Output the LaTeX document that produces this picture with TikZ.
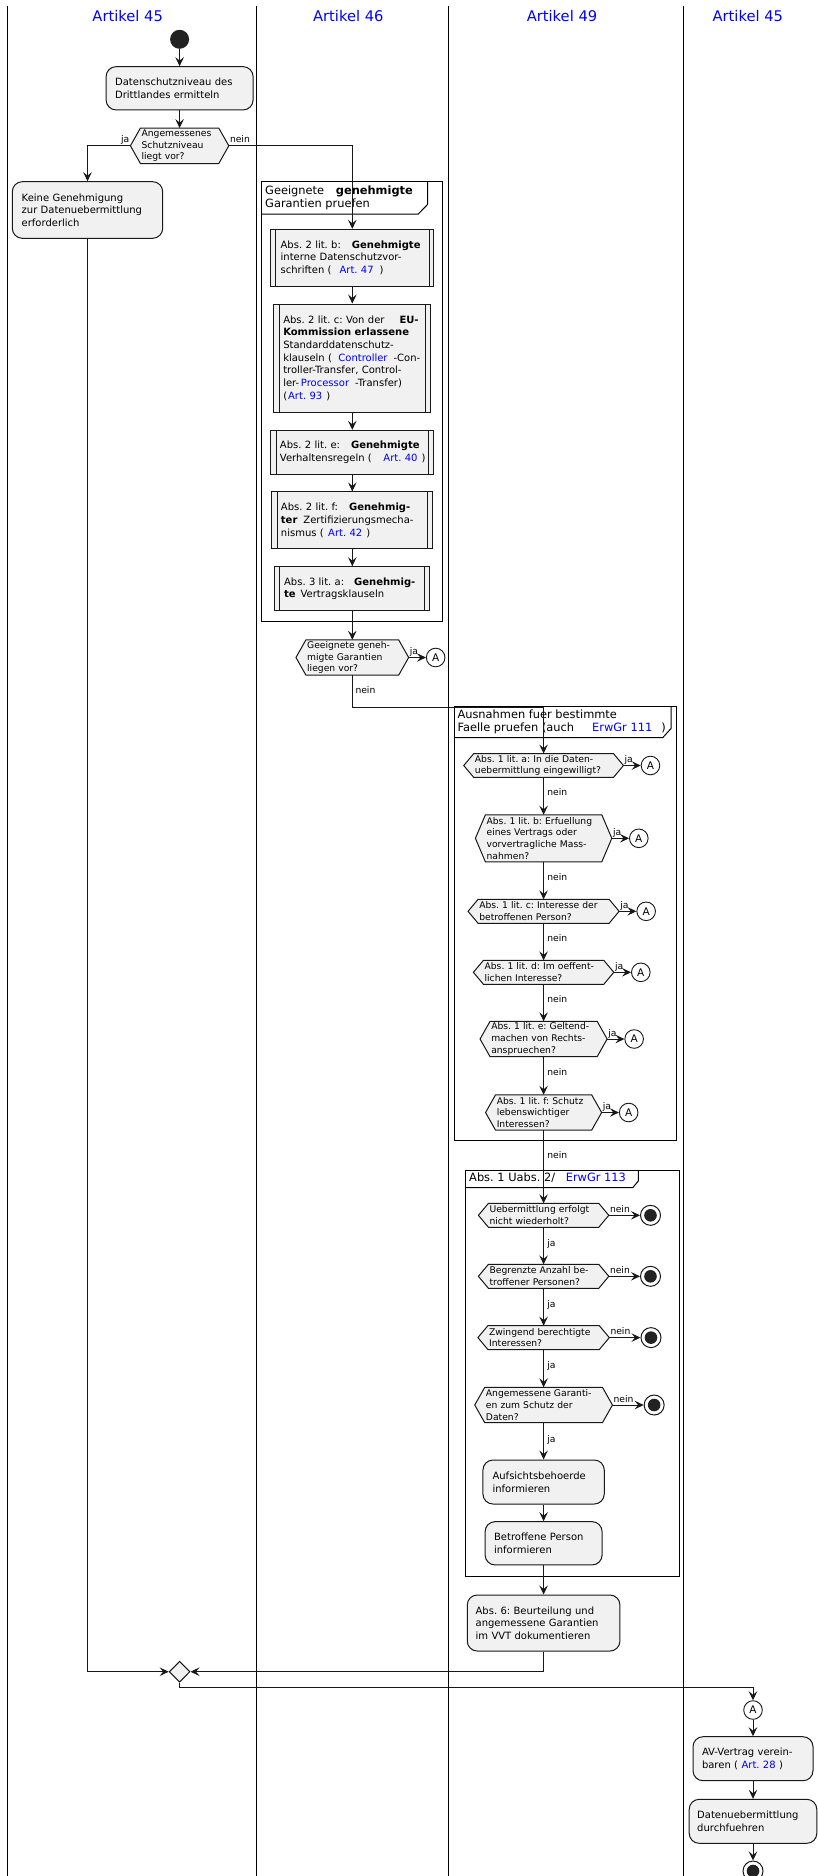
\documentclass[tikz,border=0pt]{standalone}
\usepackage{fontspec}
\setmainfont{DejaVu Sans}
\usetikzlibrary{arrows.meta,shapes.geometric,backgrounds}
\frenchspacing
\definecolor{boxfill}{HTML}{F1F1F1}
\definecolor{boxline}{HTML}{181818}
\definecolor{darkdot}{HTML}{222222}
\definecolor{linkblue}{HTML}{0000FF}
\newcommand\Lx[1]{\mbox{#1}}
\newcommand\lk[1]{\textcolor{linkblue}{#1}}
\newcommand\hexn[6]{%
  \node[hext, minimum width=#3pt, text width=#4pt, minimum height=#5pt] (#1) at #2 {#6};
  \begin{scope}[on background layer]
    \filldraw[hexs] ([xshift=-10pt]#1.west) -- (#1.north west) -- (#1.north east) -- ([xshift=10pt]#1.east) -- (#1.south east) -- (#1.south west) -- cycle;
  \end{scope}}
\tikzset{
 lane/.style={line width=1pt, draw=black},
 ttl/.style={font=\fontsize{14.7}{17}\selectfont, text=linkblue, inner sep=0pt, anchor=base},
 abox/.style={draw=boxline, fill=boxfill, line width=1pt, rounded corners=10pt, align=left, inner ysep=0pt, font=\fontsize{10}{12.7}\selectfont},
 sbox/.style={draw=boxline, fill=boxfill, line width=1pt, align=left, inner ysep=0pt, font=\fontsize{10}{12.7}\selectfont,
   path picture={\draw[boxline, line width=0.8pt] ([xshift=5pt]path picture bounding box.north west) -- ([xshift=5pt]path picture bounding box.south west)
     ([xshift=-5pt]path picture bounding box.north east) -- ([xshift=-5pt]path picture bounding box.south east);}},
 hext/.style={align=left, inner xsep=1pt, inner ysep=0pt, font=\fontsize{9.2}{11.6}\selectfont},
 hexs/.style={draw=boxline, fill=boxfill, line width=1pt},
 frm/.style={draw=black, line width=1pt},
 fhead/.style={align=left, inner sep=0pt, anchor=north west, font=\fontsize{11.4}{13.4}\selectfont},
 arr/.style={draw=boxline, line width=0.9pt, -{Stealth[length=9pt,width=8.5pt,inset=3.5pt]}},
 lbl/.style={font=\fontsize{9.2}{11}\selectfont, inner sep=1pt, text depth=1.8pt},
 circA/.style={circle, draw=boxline, fill=white, line width=0.9pt, minimum size=18.6pt, inner sep=0pt, font=\fontsize{10.5}{12}\selectfont},
 endc/.style={circle, draw=boxline, fill=white, line width=1pt, minimum size=20pt, inner sep=0pt,
   path picture={\fill[darkdot] (path picture bounding box.center) circle (6.3pt);}},
 startc/.style={circle, fill=darkdot, minimum size=19pt, inner sep=0pt},
 mrg/.style={diamond, draw=boxline, fill=boxfill, line width=1pt, minimum width=20.8pt, minimum height=21pt, inner sep=0pt},
}
\begin{document}
\begin{tikzpicture}[x=1pt,y=-1pt]
\useasboundingbox (0,0) rectangle (817,1876);
\begin{scope}[on background layer]
\fill[white] (0,0) rectangle (817,1876);
\end{scope}
% lanes
\draw[lane] (7,6) -- (7,1876);
\draw[lane] (256,6) -- (256,1876);
\draw[lane] (448,6) -- (448,1876);
\draw[lane] (683,6) -- (683,1876);
\node[ttl] (t1) at (127.7,22) {Artikel 45};
\node[ttl] (t2) at (348.3,22) {Artikel 46};
\node[ttl] (t3) at (562,22) {Artikel 49};
\node[ttl] (t4) at (747.8,22) {Artikel 45};
% lane 1
\node[startc] (start) at (179.6,39.3) {};
\node[abox, minimum width=147pt, text width=129pt, inner xsep=9pt, minimum height=43.3pt] (b1) at (179.6,88.3) {\Lx{Datenschutzniveau des}\\\Lx{Drittlandes ermitteln}};
\hexn{h1}{(179.6,145.8)}{78}{76}{35}{\Lx{Angemessenes}\\\Lx{Schutzniveau}\\\Lx{liegt vor?}}
\node[abox, minimum width=150.4pt, text width=131.6pt, inner xsep=9.4pt, minimum height=56.6pt] (kg) at (87.5,210) {\Lx{Keine Genehmigung}\\\Lx{zur Datenuebermittlung}\\\Lx{erforderlich}};
% frame 1
\draw[frm] (261.7,181.7) rectangle (442.7,621.7);
\draw[frm] (261.7,214) -- (418.3,214) -- (427.5,204.5) -- (427.5,181.7);
\node[fhead] (fh1) at (265,185.6) {\Lx{Geeignete\hspace{11.7pt}\textbf{genehmigte}}\\\Lx{Garantien pruefen}};
\node[sbox, minimum width=163.3pt, text width=143.3pt, inner xsep=10pt, minimum height=56.7pt] (sb) at (352.3,257.7) {\Lx{Abs. 2 lit. b:\hspace{11pt}\textbf{Genehmigte}}\\\Lx{interne Datenschutzvor-}\\\Lx{schriften (\hspace{8pt}\lk{Art. 47}\hspace{6pt})}};
\node[sbox, minimum width=156.7pt, text width=138.1pt, inner xsep=9.3pt, minimum height=108pt] (sc) at (352.3,358) {\Lx{Abs. 2 lit. c: Von der\hspace{15pt}\textbf{EU-}}\\\Lx{\textbf{Kommission erlassene}}\\\Lx{Standarddatenschutz-}\\\Lx{klauseln (\hspace{6.4pt}\lk{Controller}\hspace{6pt}-Con-}\\\Lx{troller-Transfer, Control-}\\\Lx{ler-\hspace{1.7pt}\lk{Processor}\hspace{6pt}-Transfer)}\\\Lx{(\hspace{1pt}\lk{Art. 93}\hspace{4pt})}};
\node[sbox, minimum width=162.7pt, text width=144.7pt, inner xsep=9pt, minimum height=43.7pt] (se) at (352.3,452.2) {\Lx{Abs. 2 lit. e:\hspace{11pt}\textbf{Genehmigte}}\\\Lx{Verhaltensregeln (\hspace{11.6pt}\lk{Art. 40}\hspace{4pt})}};
\node[sbox, minimum width=160.7pt, text width=142.7pt, inner xsep=9pt, minimum height=56.7pt] (sf) at (352.3,520.3) {\Lx{Abs. 2 lit. f:\hspace{11pt}\textbf{Genehmig-}}\\\Lx{\textbf{ter}\hspace{6pt}Zertifizierungsmecha-}\\\Lx{nismus (\hspace{4.4pt}\lk{Art. 42}\hspace{4pt})}};
\node[sbox, minimum width=155pt, text width=136.4pt, inner xsep=9.3pt, minimum height=44pt] (s3) at (352.3,588.7) {\Lx{Abs. 3 lit. a:\hspace{10pt}\textbf{Genehmig-}}\\\Lx{\textbf{te}\hspace{5pt}Vertragsklauseln}};
\hexn{hg}{(352.3,657.5)}{92.3}{90.3}{35}{\Lx{Geeignete geneh-}\\\Lx{migte Garantien}\\\Lx{liegen vor?}}
\node[circA] (ag) at ([xshift=37pt]hg.east) {A};
% frame 2
\draw[frm] (454,706) rectangle (676,1140.7);
\draw[frm] (454,737.7) -- (662.7,737.7) -- (671,728.5) -- (671,706);
\node[fhead] (fh2) at (457.3,709.6) {\Lx{Ausnahmen fuer bestimmte}\\\Lx{Faelle pruefen (auch\hspace{18pt}\lk{ErwGr 111}\hspace{9pt})}};
\hexn{ha}{(543.6,765.5)}{139.3}{137.3}{23.5}{\Lx{Abs. 1 lit. a: In die Daten-}\\\Lx{uebermittlung eingewilligt?}}
\hexn{hb}{(543.6,838.3)}{116}{114}{46.7}{\Lx{Abs. 1 lit. b: Erfuellung}\\\Lx{eines Vertrags oder}\\\Lx{vorvertragliche Mass-}\\\Lx{nahmen?}}
\hexn{hc}{(543.6,911.3)}{130.7}{128.7}{23.5}{\Lx{Abs. 1 lit. c: Interesse der}\\\Lx{betroffenen Person?}}
\hexn{hd}{(543.6,972.3)}{120}{118}{23.5}{\Lx{Abs. 1 lit. d: Im oeffent-}\\\Lx{lichen Interesse?}}
\hexn{he}{(543.6,1039)}{106.7}{104.7}{35}{\Lx{Abs. 1 lit. e: Geltend-}\\\Lx{machen von Rechts-}\\\Lx{anspruechen?}}
\hexn{hf}{(543.6,1112.5)}{95.7}{93.7}{35}{\Lx{Abs. 1 lit. f: Schutz}\\\Lx{lebenswichtiger}\\\Lx{Interessen?}}
\node[circA] (aa) at ([xshift=37pt]ha.east) {A};
\node[circA] (ab) at ([xshift=37pt]hb.east) {A};
\node[circA] (ac) at ([xshift=37pt]hc.east) {A};
\node[circA] (ad) at ([xshift=37pt]hd.east) {A};
\node[circA] (ae) at ([xshift=37pt]he.east) {A};
\node[circA] (af) at ([xshift=37pt]hf.east) {A};
% frame 3
\draw[frm] (465.7,1170.7) rectangle (679.5,1576);
\draw[frm] (465.7,1187.7) -- (632.7,1187.7) -- (638.3,1181) -- (638.3,1170.7);
\node[fhead] (fh3) at (469,1172.9) {\Lx{Abs. 1 Uabs. 2/\hspace{10.7pt}\lk{ErwGr 113}}};
\hexn{u1}{(543.6,1215.3)}{110}{108}{23.5}{\Lx{Uebermittlung erfolgt}\\\Lx{nicht wiederholt?}}
\hexn{u2}{(543.6,1276.3)}{110}{108}{23.5}{\Lx{Begrenzte Anzahl be-}\\\Lx{troffener Personen?}}
\hexn{u3}{(543.6,1337.6)}{111}{109}{23.5}{\Lx{Zwingend berechtigte}\\\Lx{Interessen?}}
\hexn{u4}{(543.6,1405)}{117.3}{115.3}{35}{\Lx{Angemessene Garanti-}\\\Lx{en zum Schutz der}\\\Lx{Daten?}}
\node[endc] (e1) at ([xshift=51.7pt]u1.east) {};
\node[endc] (e2) at ([xshift=51.7pt]u2.east) {};
\node[endc] (e3) at ([xshift=51.7pt]u3.east) {};
\node[endc] (e4) at ([xshift=51.7pt]u4.east) {};
\node[abox, minimum width=121.3pt, text width=102.1pt, inner xsep=9.6pt, minimum height=44pt] (au) at (543.6,1482) {\Lx{Aufsichtsbehoerde}\\\Lx{informieren}};
\node[abox, minimum width=117pt, text width=99pt, inner xsep=9pt, minimum height=43.3pt] (bp) at (543.6,1543.3) {\Lx{Betroffene Person}\\\Lx{informieren}};
\node[abox, minimum width=152.7pt, text width=135.9pt, inner xsep=8.4pt, minimum height=56pt] (a6) at (543.6,1623) {\Lx{Abs. 6: Beurteilung und}\\\Lx{angemessene Garantien}\\\Lx{im VVT dokumentieren}};
% merge and last lane
\node[mrg] (mg) at (179.6,1671.7) {};
\node[circA] (a2) at (753,1710) {A};
\node[abox, minimum width=120pt, text width=102pt, inner xsep=9pt, minimum height=44pt] (av) at (753,1758.7) {\Lx{AV-Vertrag verein-}\\\Lx{baren (\hspace{3.5pt}\lk{Art. 28}\hspace{3.5pt})}};
\node[abox, minimum width=127.6pt, text width=111.6pt, inner xsep=8pt, minimum height=44pt] (dd) at (753,1821.3) {\Lx{Datenuebermittlung}\\\Lx{durchfuehren}};
\node[endc] (ef) at (753,1871) {};
% connectors lane 1
\draw[arr] (start.south) -- (b1.north);
\draw[arr] (b1.south) -- (h1.north);
\draw[arr] ([xshift=-10pt]h1.west) -| (kg.north);
\node[lbl, anchor=south east] (lja1) at ([xshift=-10pt]h1.west) {ja};
\draw[arr] ([xshift=10pt]h1.east) -| (sb.north);
\node[lbl, anchor=south west] (lne1) at ([xshift=10pt]h1.east) {nein};
% lane 46
\draw[arr] (sb.south) -- (sc.north);
\draw[arr] (sc.south) -- (se.north);
\draw[arr] (se.south) -- (sf.north);
\draw[arr] (sf.south) -- (s3.north);
\draw[arr] (s3.south) -- (hg.north);
\draw[arr] ([xshift=10pt]hg.east) -- (ag.west);
\node[lbl, anchor=south west] (ljg) at ([xshift=10pt]hg.east) {ja};
\coordinate (gb) at (352.3,707.7);
\draw[arr] (hg.south) -- (gb) -| (ha.north);
\node[lbl, anchor=west] (lng) at ([xshift=2pt,yshift=-16pt]hg.south) {nein};
% frame 2 connectors
\draw[arr] (ha.south) -- (hb.north);
\draw[arr] (hb.south) -- (hc.north);
\draw[arr] (hc.south) -- (hd.north);
\draw[arr] (hd.south) -- (he.north);
\draw[arr] (he.south) -- (hf.north);
\draw[arr] (hf.south) -- (u1.north);
\node[lbl, anchor=west] (lna) at ([xshift=2.5pt,yshift=-15.7pt]ha.south) {nein};
\node[lbl, anchor=west] (lnb) at ([xshift=2.5pt,yshift=-15.7pt]hb.south) {nein};
\node[lbl, anchor=west] (lnc) at ([xshift=2.5pt,yshift=-15.7pt]hc.south) {nein};
\node[lbl, anchor=west] (lnd) at ([xshift=2.5pt,yshift=-15.7pt]hd.south) {nein};
\node[lbl, anchor=west] (lne) at ([xshift=2.5pt,yshift=-15.7pt]he.south) {nein};
\node[lbl, anchor=west] (lnf) at ([xshift=2.5pt,yshift=-26pt]hf.south) {nein};
\draw[arr] ([xshift=10pt]ha.east) -- (aa.west);
\draw[arr] ([xshift=10pt]hb.east) -- (ab.west);
\draw[arr] ([xshift=10pt]hc.east) -- (ac.west);
\draw[arr] ([xshift=10pt]hd.east) -- (ad.west);
\draw[arr] ([xshift=10pt]he.east) -- (ae.west);
\draw[arr] ([xshift=10pt]hf.east) -- (af.west);
\node[lbl, anchor=south west] (lja) at ([xshift=10pt]ha.east) {ja};
\node[lbl, anchor=south west] (ljb) at ([xshift=10pt]hb.east) {ja};
\node[lbl, anchor=south west] (ljc) at ([xshift=10pt]hc.east) {ja};
\node[lbl, anchor=south west] (ljd) at ([xshift=10pt]hd.east) {ja};
\node[lbl, anchor=south west] (lje) at ([xshift=10pt]he.east) {ja};
\node[lbl, anchor=south west] (ljf) at ([xshift=10pt]hf.east) {ja};
% frame 3 connectors
\draw[arr] (u1.south) -- (u2.north);
\draw[arr] (u2.south) -- (u3.north);
\draw[arr] (u3.south) -- (u4.north);
\draw[arr] (u4.south) -- (au.north);
\node[lbl, anchor=west] (lj1) at ([xshift=2.5pt,yshift=-16.7pt]u1.south) {ja};
\node[lbl, anchor=west] (lj2) at ([xshift=2.5pt,yshift=-16.7pt]u2.south) {ja};
\node[lbl, anchor=west] (lj3) at ([xshift=2.5pt,yshift=-16.7pt]u3.south) {ja};
\node[lbl, anchor=west] (lj4) at ([xshift=2.5pt,yshift=-16.7pt]u4.south) {ja};
\draw[arr] ([xshift=10pt]u1.east) -- (e1.west);
\draw[arr] ([xshift=10pt]u2.east) -- (e2.west);
\draw[arr] ([xshift=10pt]u3.east) -- (e3.west);
\draw[arr] ([xshift=10pt]u4.east) -- (e4.west);
\node[lbl, anchor=south west] (ln1) at ([xshift=10pt]u1.east) {nein};
\node[lbl, anchor=south west] (ln2) at ([xshift=10pt]u2.east) {nein};
\node[lbl, anchor=south west] (ln3) at ([xshift=10pt]u3.east) {nein};
\node[lbl, anchor=south west] (ln4) at ([xshift=10pt]u4.east) {nein};
\draw[arr] (au.south) -- (bp.north);
\draw[arr] (bp.south) -- (a6.north);
% merge
\draw[arr] (a6.south) |- (mg.east);
\draw[arr] (kg.south) |- (mg.west);
\draw[arr] (mg.south) -- ++(0,5) -| (a2.north);
\draw[arr] (a2.south) -- (av.north);
\draw[arr] (av.south) -- (dd.north);
\draw[arr] (dd.south) -- (ef.north);
\end{tikzpicture}
\end{document}
